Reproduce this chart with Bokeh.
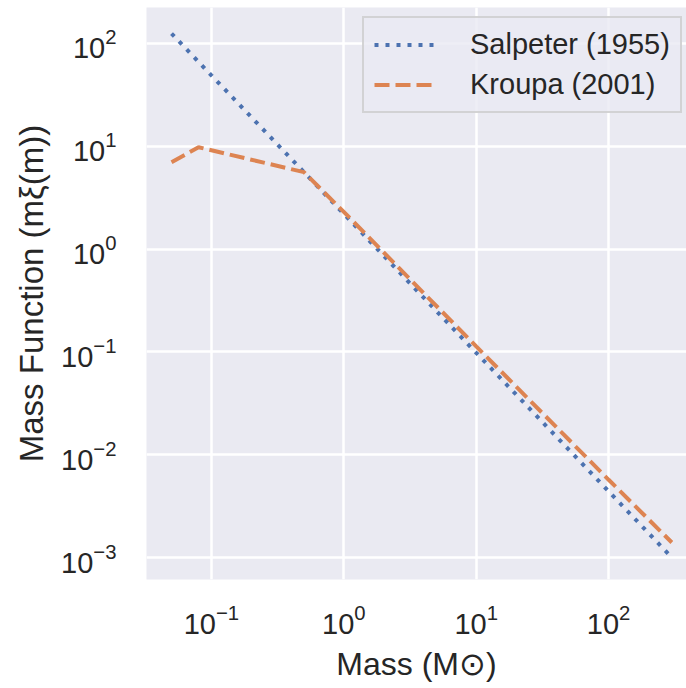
from bokeh.plotting import figure
from bokeh.models import Range1d, Legend, LegendItem, FixedTicker, LogTickFormatter
from bokeh.embed import file_html
from bokeh.resources import INLINE

# ---- data ----
salpeter_mass = [0.05, 0.1, 0.5, 1.0, 10.0, 100.0, 300.0]
salpeter_mf = [125.0, 49.0, 5.6, 2.2, 0.098, 0.0044, 0.0010]

kroupa_mass = [0.05, 0.08, 0.5, 1.0, 10.0, 100.0, 300.0]
kroupa_mf = [7.0, 9.8, 5.6, 2.3, 0.113, 0.0057, 0.0014]

x_ticks = [0.1, 1.0, 10.0, 100.0]
y_ticks = [1e-3, 1e-2, 1e-1, 1e0, 1e1, 1e2]

series_labels = ["Salpeter (1955)", "Kroupa (2001)"]
x_label = "Mass (M\u2299)"
y_label = "Mass Function (m\u03be(m))"

# ---- style ----
BG = "#EAEAF2"
TXT = "#262626"
BLUE = "#4C72B0"
ORANGE = "#DD8452"
W, H = 686, 688
FL, FR, FT, FB = 146, 686, 7, 579  # frame edges in canvas px

p = figure(width=W, height=H, x_axis_type="log", y_axis_type="log",
           x_range=Range1d(10 ** -1.49, 10 ** 2.588),
           y_range=Range1d(10 ** -3.214, 10 ** 2.350),
           output_backend="svg", toolbar_location=None,
           min_border_left=FL, min_border_right=W - FR,
           min_border_top=FT, min_border_bottom=H - FB)

p.background_fill_color = BG
p.border_fill_color = "white"
p.outline_line_color = None

for ax in (p.xaxis[0], p.yaxis[0]):
    ax.axis_line_color = None
    ax.major_tick_line_color = None
    ax.minor_tick_line_color = None
    ax.major_tick_out = 0
    ax.major_tick_in = 0
    ax.minor_tick_out = 0
    ax.minor_tick_in = 0
    ax.major_label_text_font = "Liberation Sans"
    ax.major_label_text_font_size = "29px"
    ax.major_label_text_color = TXT
    ax.axis_label_text_font = "Liberation Sans"
    ax.axis_label_text_font_style = "normal"
    ax.axis_label_text_color = TXT
    ax.formatter = LogTickFormatter()

p.xaxis[0].axis_label_text_font_size = "32px"
p.yaxis[0].axis_label_text_font_size = "33px"
p.xaxis[0].ticker = FixedTicker(ticks=x_ticks, minor_ticks=[])
p.yaxis[0].ticker = FixedTicker(ticks=y_ticks, minor_ticks=[])
p.xaxis[0].major_label_standoff = 24
p.yaxis[0].major_label_standoff = 30
p.xaxis[0].axis_label = x_label
p.yaxis[0].axis_label = y_label
p.xaxis[0].axis_label_standoff = 9
p.yaxis[0].axis_label_standoff = 8

p.grid.grid_line_color = "white"
p.grid.grid_line_width = 2.5
p.grid.minor_grid_line_color = None

r1 = p.line(salpeter_mass, salpeter_mf, line_color=BLUE, line_width=4,
            line_dash="4 7")
r2 = p.line(kroupa_mass, kroupa_mf, line_color=ORANGE, line_width=4,
            line_dash="15 6")

legend = Legend(items=[LegendItem(label=series_labels[0], renderers=[r1]),
                       LegendItem(label=series_labels[1], renderers=[r2])],
                location=(362 - FL, FB - 113),
                padding=10, spacing=7, margin=0,
                glyph_width=60, glyph_height=33, label_height=33,
                label_standoff=36,
                label_text_font="Liberation Sans", label_text_font_size="29px",
                label_text_color=TXT,
                background_fill_color=BG, background_fill_alpha=0.8,
                border_line_color="#CCCCCC", border_line_alpha=0.8,
                border_line_width=2)
p.add_layout(legend)

open("out.html", "w").write(file_html(p, INLINE))
